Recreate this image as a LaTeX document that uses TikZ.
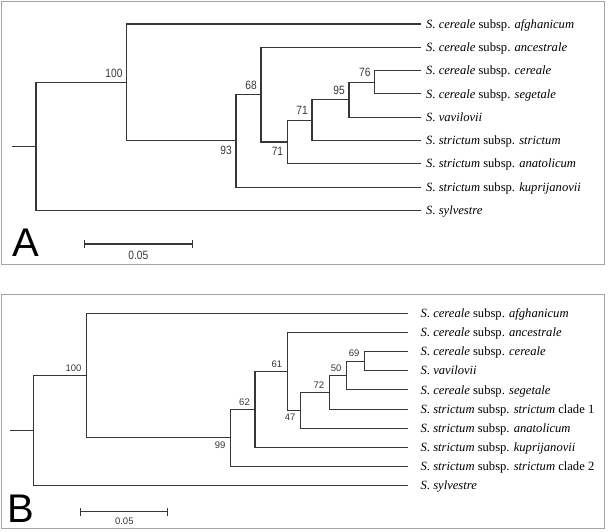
\documentclass[tikz,border=0pt]{standalone}
\usepackage{fontspec}
\setmainfont{Liberation Serif}
\newfontfamily\bsfont[FakeStretch=0.85]{Liberation Sans}
\newfontfamily\panelfont{Liberation Sans}
\usetikzlibrary{arrows.meta, positioning}
\definecolor{branchgray}{RGB}{55,55,55}
\definecolor{framegray}{RGB}{165,165,165}

\begin{document}
\begin{tikzpicture}[x=1pt, y=-1pt,
  every node/.style={font=\fontsize{12.6}{14}\selectfont},
  branch/.style={draw=branchgray, line width=1.1pt},
  frame/.style={draw=framegray, line width=1pt},
  taxonA/.style={anchor=west, inner xsep=5pt, inner ysep=0pt, text height=8.3pt, text depth=0pt},
  taxonB/.style={anchor=west, inner xsep=12.5pt, inner ysep=0pt, text height=8.3pt, text depth=0pt},
  bsA/.style={inner xsep=4pt, inner ysep=5pt, text=branchgray, font=\bsfont\fontsize{12}{14}\selectfont},
  bsB/.style={inner xsep=5pt, inner ysep=4pt, text=branchgray, font=\panelfont\fontsize{9.5}{11}\selectfont},
  scalebar/.style={branch, {Bar[width=8pt,line width=1pt]}-{Bar[width=8pt,line width=1pt]}},
  panel/.style={anchor=south west, inner sep=0pt, font=\panelfont\fontsize{40}{44}\selectfont}
]
\useasboundingbox (0,0) rectangle (610,531);

% panel A
\draw[frame] (1.7,1.7) rectangle (604,264.5);

\node[taxonA] (afgA) at (421,24.0)  {\textit{S. cereale} subsp. \textit{afghanicum}};
\node[taxonA] (ancA) at (421,47.3)  {\textit{S. cereale} subsp. \textit{ancestrale}};
\node[taxonA] (cerA) at (421,70.6)  {\textit{S. cereale} subsp. \textit{cereale}};
\node[taxonA] (segA) at (421,93.9)  {\textit{S. cereale} subsp. \textit{segetale}};
\node[taxonA] (vavA) at (421,117.2) {\textit{S. vavilovii}};
\node[taxonA] (strA) at (421,140.5) {\textit{S. strictum} subsp. \textit{strictum}};
\node[taxonA] (anaA) at (421,163.8) {\textit{S. strictum} subsp. \textit{anatolicum}};
\node[taxonA] (kupA) at (421,187.1) {\textit{S. strictum} subsp. \textit{kuprijanovii}};
\node[taxonA] (sylA) at (421,210.4) {\textit{S. sylvestre}};

\coordinate (n76A)  at (374.7,82.25);
\coordinate (n95A)  at (349,99.7);
\coordinate (n71uA) at (312,120.1);
\coordinate (n71lA) at (287.3,141.95);
\coordinate (n68A)  at (261,94.6);
\coordinate (n93A)  at (236,140.9);
\coordinate (n100A) at (126.7,82.4);
\coordinate (rootA) at (36,146.4);
\coordinate (stubA) at (11.7,146.4);

\foreach \p/\c in {n76A/cerA.west, n76A/segA.west, n95A/n76A, n95A/vavA.west,
    n71uA/n95A, n71uA/strA.west, n71lA/n71uA, n71lA/anaA.west,
    n68A/ancA.west, n68A/n71lA, n93A/n68A, n93A/kupA.west,
    n100A/afgA.west, n100A/n93A, rootA/n100A, rootA/sylA.west}
  \draw[branch] (\p) |- (\c);
\draw[branch] (stubA) -- (rootA);

\node[bsA, anchor=south east] (bs100A) at (n100A) {100};
\node[bsA, anchor=north east] (bs93A)  at (n93A)  {93};
\node[bsA, anchor=south east] (bs68A)  at (n68A)  {68};
\node[bsA, anchor=north east] (bs71lA) at (n71lA) {71};
\node[bsA, anchor=south east] (bs71uA) at (n71uA) {71};
\node[bsA, anchor=south east] (bs95A)  at (n95A)  {95};
\node[bsA, anchor=south east] (bs76A)  at (n76A)  {76};

\coordinate (sbA1) at (84,244);
\coordinate (sbA2) at (192.7,244);
\draw[scalebar] (sbA1) -- (sbA2);
\node[font=\bsfont\fontsize{12}{14}\selectfont, text=branchgray] (sbtA) at (138.3,255) {0.05};
\node[panel] (letA) at (12.5,256.7) {A};

% panel B
\draw[frame] (1.5,294.5) rectangle (604,528.5);

\node[taxonB] (afgB) at (408,313.3)  {\textit{S. cereale} subsp. \textit{afghanicum}};
\node[taxonB] (ancB) at (408,332.45) {\textit{S. cereale} subsp. \textit{ancestrale}};
\node[taxonB] (cerB) at (408,351.6)  {\textit{S. cereale} subsp. \textit{cereale}};
\node[taxonB] (vavB) at (408,370.75) {\textit{S. vavilovii}};
\node[taxonB] (segB) at (408,389.9)  {\textit{S. cereale} subsp. \textit{segetale}};
\node[taxonB] (cl1B) at (408,409.05) {\textit{S. strictum} subsp. \textit{strictum} clade 1};
\node[taxonB] (anaB) at (408,428.2)  {\textit{S. strictum} subsp. \textit{anatolicum}};
\node[taxonB] (kupB) at (408,447.35) {\textit{S. strictum} subsp. \textit{kuprijanovii}};
\node[taxonB] (cl2B) at (408,466.5)  {\textit{S. strictum} subsp. \textit{strictum} clade 2};
\node[taxonB] (sylB) at (408,485.65) {\textit{S. sylvestre}};

\coordinate (n69B)  at (364.7,361.2);
\coordinate (n50B)  at (346.7,375.55);
\coordinate (n72B)  at (329.3,392.3);
\coordinate (n47B)  at (300.7,410.25);
\coordinate (n61B)  at (287.3,371.35);
\coordinate (n62B)  at (255,409.35);
\coordinate (n99B)  at (230.7,437.9);
\coordinate (n100B) at (86.7,375.6);
\coordinate (rootB) at (33.3,430.6);
\coordinate (stubB) at (10,430.6);

\foreach \p/\c in {n69B/cerB.west, n69B/vavB.west, n50B/n69B, n50B/segB.west,
    n72B/n50B, n72B/cl1B.west, n47B/n72B, n47B/anaB.west,
    n61B/ancB.west, n61B/n47B, n62B/n61B, n62B/kupB.west,
    n99B/n62B, n99B/cl2B.west, n100B/afgB.west, n100B/n99B,
    rootB/n100B, rootB/sylB.west}
  \draw[branch] (\p) |- (\c);
\draw[branch] (stubB) -- (rootB);

\node[bsB, anchor=south east] (bs100B) at (n100B) {100};
\node[bsB, anchor=north east] (bs99B)  at (n99B)  {99};
\node[bsB, anchor=south east] (bs62B)  at (n62B)  {62};
\node[bsB, anchor=south east] (bs61B)  at (n61B)  {61};
\node[bsB, anchor=north east] (bs47B)  at (n47B)  {47};
\node[bsB, anchor=south east] (bs72B)  at (n72B)  {72};
\node[bsB, anchor=south east] (bs50B)  at (n50B)  {50};
\node[bsB, anchor=south east] (bs69B)  at (n69B)  {69};

\coordinate (sbB1) at (80,511.7);
\coordinate (sbB2) at (168.3,511.7);
\draw[scalebar] (sbB1) -- (sbB2);
\node[font=\panelfont\fontsize{9.5}{11}\selectfont, text=branchgray] (sbtB) at (124.3,521.7) {0.05};
\node[panel] (letB) at (7.3,522.7) {B};
\end{tikzpicture}
\end{document}
